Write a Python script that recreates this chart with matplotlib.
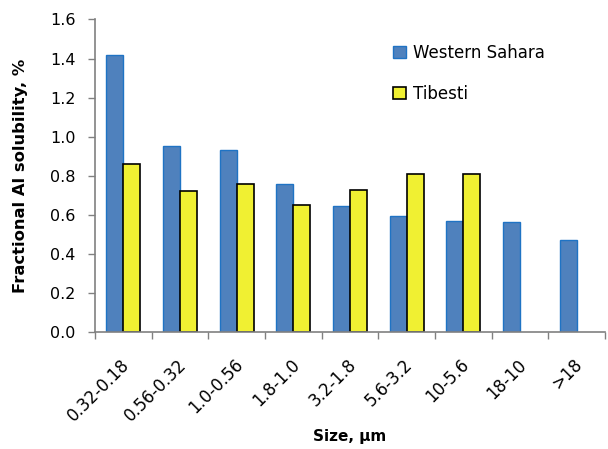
import matplotlib
matplotlib.use("Agg")
import matplotlib.pyplot as plt
import matplotlib.transforms as mtransforms
import numpy as np

plt.rcParams['font.family'] = ['DejaVu Sans']

categories = ["0.32-0.18", "0.56-0.32", "1.0-0.56", "1.8-1.0", "3.2-1.8",
              "5.6-3.2", "10-5.6", "18-10", ">18"]
western_sahara = [1.42, 0.95, 0.93, 0.76, 0.645, 0.595, 0.57, 0.565, 0.47]
tibesti = [0.86, 0.72, 0.76, 0.65, 0.725, 0.81, 0.81, None, None]

fig = plt.figure(figsize=(6.08, 4.49), dpi=100)
ax = fig.add_axes([0.156, 0.2606, 0.839, 0.6960])

x = np.arange(len(categories))
w = 0.3
ax.bar(x - w / 2, western_sahara, width=w, color="#4F81BD",
       edgecolor="#1F73C4", linewidth=1.0, label="Western Sahara")
tx = [xi for xi, v in zip(x, tibesti) if v is not None]
tv = [v for v in tibesti if v is not None]
ax.bar(np.array(tx) + w / 2, tv, width=w, color="#F0F032",
       edgecolor="black", linewidth=1.2, label="Tibesti")

ax.set_xlim(-0.5, len(categories) - 0.5)
ax.set_ylim(0, 1.6)
yt = np.arange(0, 1.61, 0.2)
ax.set_yticks(yt)
ax.set_yticklabels([f"{v:.1f}" for v in yt], fontsize=11.5)

ax.set_xticks(x)
ax.set_xticklabels(categories, rotation=45, ha="right", va="top",
                   rotation_mode="anchor", fontsize=12)
ax.tick_params(axis="x", which="major", length=0, pad=17)
ax.set_xticks(np.arange(-0.5, len(categories), 1.0), minor=True)
ax.tick_params(axis="x", which="minor", length=5, color="#808080", width=1)
ax.tick_params(axis="y", length=5, color="#808080", width=1, pad=9)

shift = mtransforms.ScaledTranslation(-3 / 100, 0, fig.dpi_scale_trans)
for lbl in ax.get_xticklabels():
    lbl.set_transform(lbl.get_transform() + shift)

for s in ["top", "right"]:
    ax.spines[s].set_visible(False)
for s in ["left", "bottom"]:
    ax.spines[s].set_color("#808080")
    ax.spines[s].set_linewidth(1.2)

ax.set_ylabel("Fractional Al solubility, %", fontsize=11.8, fontweight="bold",
              va="center")
ax.yaxis.set_label_coords(-0.145, 0.5)
ax.set_xlabel("Size, µm", fontsize=11, fontweight="bold", va="center")
ax.xaxis.set_label_coords(0.5, -0.336)

ax.legend(loc="upper left", bbox_to_anchor=(0.555, 0.97), frameon=False,
          fontsize=12, labelspacing=1.4, handlelength=0.8, handleheight=0.75,
          handletextpad=0.4)

fig.savefig("out.png", dpi=100)
